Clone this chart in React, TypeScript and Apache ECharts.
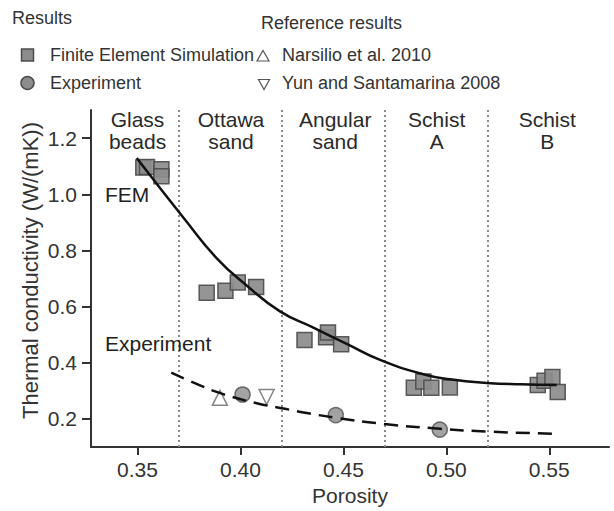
import { useEffect, useRef } from "react";
import * as echarts from "echarts";

const FONT = '"Liberation Sans", Arial, Helvetica, sans-serif';
const TEXT = "#333";

// Finite element simulation results
const femPorosity = [0.3528, 0.3546, 0.3616, 0.3616, 0.3836, 0.3927, 0.3987, 0.4076, 0.4311, 0.4416, 0.4425, 0.4489, 0.4842, 0.4888, 0.4927, 0.5017, 0.5444, 0.5477, 0.5515, 0.5541];
const femConductivity = [1.095, 1.097, 1.089, 1.064, 0.649, 0.656, 0.686, 0.670, 0.481, 0.491, 0.508, 0.466, 0.311, 0.333, 0.311, 0.312, 0.321, 0.336, 0.349, 0.296];

// Laboratory measurements
const expPorosity = [0.401, 0.4463, 0.4968];
const expConductivity = [0.287, 0.2135, 0.162];

// Reference results
const narsilioPorosity = [0.39];
const narsilioConductivity = [0.275];
const yunPorosity = [0.4127];
const yunConductivity = [0.278];

// Trend curves
const femFitPorosity = [0.3496, 0.3731, 0.3885, 0.403, 0.4192, 0.4354, 0.4516, 0.4678, 0.4888, 0.5018, 0.5196, 0.536, 0.5536];
const femFitConductivity = [1.129, 0.909, 0.772, 0.675, 0.583, 0.525, 0.467, 0.41, 0.359, 0.341, 0.328, 0.323, 0.321];
const expFitPorosity = [0.3664, 0.3795, 0.3909, 0.4079, 0.4216, 0.433, 0.4474, 0.4699, 0.4969, 0.5196, 0.5536];
const expFitConductivity = [0.365, 0.322, 0.29, 0.256, 0.236, 0.22, 0.203, 0.182, 0.165, 0.155, 0.147];

// Material regions
const regionBounds = [0.37, 0.42, 0.47, 0.52];
const regionNames = ["Glass\nbeads", "Ottawa\nsand", "Angular\nsand", "Schist\nA", "Schist\nB"];
const regionCenters = [0.35, 0.3954, 0.446, 0.4953, 0.549];
const regionLabelLevel = 1.228;

// Axis ticks
const xTicks = [0.35, 0.4, 0.45, 0.5, 0.55];
const yTicks = [0.2, 0.4, 0.6, 0.8, 1.0, 1.2];

const zip = (xs: number[], ys: number[]) => xs.map((x, i) => [x, ys[i]]);

const markerFill = "#8c8c8c";
const markerStroke = "#4d4d4d";

function legendText(text: string, x: number, y: number) {
  return {
    type: "text",
    x,
    y,
    style: {
      text,
      font: `18px ${FONT}`,
      fill: TEXT,
      align: "left",
      verticalAlign: "middle",
      textAlign: "left",
      textVerticalAlign: "middle",
    },
  };
}

function plotText(text: string, x: number, y: number) {
  return {
    type: "text",
    x,
    y,
    z: 10,
    style: {
      text,
      font: `21px ${FONT}`,
      fill: "#222",
      align: "left",
      verticalAlign: "middle",
      textAlign: "left",
      textVerticalAlign: "middle",
    },
  };
}

export default function App() {
  const ref = useRef<HTMLDivElement>(null);

  useEffect(() => {
    const chart = echarts.init(ref.current!, null, { renderer: "svg" });

    const option = {
      animation: false,
      textStyle: { fontFamily: FONT },
      grid: { left: 91, right: 5, top: 110, bottom: 64, containLabel: false },
      xAxis: {
        type: "value",
        min: 0.3274,
        max: 0.579,
        name: "Porosity",
        nameLocation: "middle",
        nameGap: 38,
        nameTextStyle: { fontSize: 21, color: TEXT, fontFamily: FONT },
        axisLine: { show: true, lineStyle: { color: "#333", width: 2 } },
        axisTick: { show: true, length: 8, customValues: xTicks, lineStyle: { color: "#333", width: 2 } },
        axisLabel: {
          customValues: xTicks,
          formatter: (v: number) => v.toFixed(2),
          fontSize: 21,
          color: TEXT,
          margin: 12,
          fontFamily: FONT,
        },
        splitLine: { show: false },
      },
      yAxis: {
        type: "value",
        min: 0.1,
        max: 1.3,
        axisLine: { show: true, lineStyle: { color: "#333", width: 2 } },
        axisTick: { show: true, length: 9, customValues: yTicks, lineStyle: { color: "#333", width: 2 } },
        axisLabel: {
          customValues: yTicks,
          formatter: (v: number) => v.toFixed(1),
          fontSize: 21,
          color: TEXT,
          margin: 14,
          fontFamily: FONT,
        },
        splitLine: { show: false },
      },
      graphic: [
        legendText("Results", 12, 18),
        {
          type: "rect",
          shape: { x: 21.5, y: 49, width: 12, height: 12 },
          style: { fill: markerFill, stroke: markerStroke, lineWidth: 1.5 },
        },
        legendText("Finite Element Simulation", 50, 55),
        {
          type: "circle",
          shape: { cx: 27.5, cy: 83, r: 6.5 },
          style: { fill: markerFill, stroke: markerStroke, lineWidth: 1.5 },
        },
        legendText("Experiment", 50, 83),
        legendText("Reference results", 261, 23),
        {
          type: "polygon",
          shape: { points: [[257, 61], [269, 61], [263, 50.5]] },
          style: { fill: "none", stroke: "#555", lineWidth: 1.2 },
        },
        legendText("Narsilio et al. 2010", 282, 55),
        {
          type: "polygon",
          shape: { points: [[258.5, 79.5], [269.5, 79.5], [264, 89.5]] },
          style: { fill: "none", stroke: "#555", lineWidth: 1.2 },
        },
        legendText("Yun and Santamarina 2008", 282, 83),
        {
          type: "text",
          x: 30,
          y: 270.5,
          rotation: Math.PI / 2,
          style: {
            text: "Thermal conductivity (W/(mK))",
            font: `22px ${FONT}`,
            fill: TEXT,
            align: "center",
            verticalAlign: "middle",
            textAlign: "center",
            textVerticalAlign: "middle",
          },
        },
        plotText("FEM", 105, 194),
        plotText("Experiment", 105, 343.5),
      ],
      series: [
        {
          name: "regions",
          type: "scatter",
          symbolSize: 1,
          itemStyle: { color: "#fff", opacity: 0 },
          data: regionCenters.map((x, i) => ({ value: [x, regionLabelLevel], name: regionNames[i] })),
          label: {
            show: true,
            position: "inside",
            formatter: (p: any) => p.name,
            fontSize: 21,
            lineHeight: 22,
            color: "#2a2a2a",
            textBorderWidth: 0,
            opacity: 1,
            fontFamily: FONT,
            align: "center",
            verticalAlign: "middle",
          },
          markLine: {
            silent: true,
            symbol: "none",
            label: { show: false },
            lineStyle: { color: "#8a8a8a", width: 2, type: [2, 3] },
            data: regionBounds.map((x) => ({ xAxis: x })),
          },
          z: 1,
        },
        {
          name: "Finite Element Simulation",
          type: "scatter",
          symbol: "rect",
          symbolSize: 15,
          itemStyle: { color: markerFill, borderColor: markerStroke, borderWidth: 1.5, opacity: 0.92 },
          data: zip(femPorosity, femConductivity),
          z: 2,
        },
        {
          name: "Experiment",
          type: "scatter",
          symbol: "circle",
          symbolSize: 15,
          itemStyle: { color: markerFill, borderColor: markerStroke, borderWidth: 1.5 },
          data: zip(expPorosity, expConductivity),
          z: 2,
        },
        {
          name: "Narsilio et al. 2010",
          type: "scatter",
          symbol: "triangle",
          symbolSize: 15,
          itemStyle: { color: "rgba(255,255,255,0)", borderColor: "#666", borderWidth: 1.5 },
          data: zip(narsilioPorosity, narsilioConductivity),
          z: 2,
        },
        {
          name: "Yun and Santamarina 2008",
          type: "scatter",
          symbol: "triangle",
          symbolRotate: 180,
          symbolSize: 15,
          itemStyle: { color: "rgba(255,255,255,0)", borderColor: "#666", borderWidth: 1.5 },
          data: zip(yunPorosity, yunConductivity),
          z: 2,
        },
        {
          name: "FEM trend",
          type: "line",
          smooth: 0.5,
          showSymbol: false,
          lineStyle: { color: "#111", width: 2.5 },
          data: zip(femFitPorosity, femFitConductivity),
          z: 5,
        },
        {
          name: "Experiment trend",
          type: "line",
          smooth: 0.5,
          showSymbol: false,
          lineStyle: { color: "#111", width: 2.5, type: [14, 8] },
          data: zip(expFitPorosity, expFitConductivity),
          z: 5,
        },
      ],
    };

    chart.setOption(option as any);
    return () => chart.dispose();
  }, []);

  return (
    <div
      ref={ref}
      style={{ position: "absolute", left: 0, top: 0, width: 614, height: 511, background: "#fff" }}
    />
  );
}
